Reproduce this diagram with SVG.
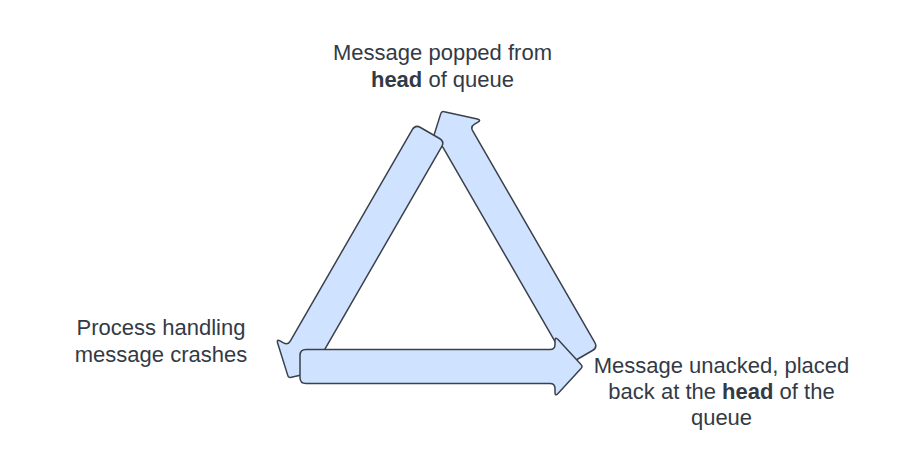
<svg xmlns="http://www.w3.org/2000/svg" width="900" height="454" viewBox="0 0 900 454">
  <style>
    .arrow { fill: #cfe2ff; stroke: #3a414a; stroke-width: 1.5; stroke-linejoin: round; }
    .label { font-family: "Liberation Sans", Arial, sans-serif; font-size: 22px; fill: #333a45; text-anchor: middle; }
    .b { font-weight: bold; }
  </style>
  <defs>
    <path id="blockArrow" d="M6,-17 L250,-17 Q255,-17 255,-22 L255,-26 Q255,-30 258,-27 L281,-2 Q283,0 281,2 L258,27 Q255,30 255,26 L255,22 Q255,17 250,17 L6,17 Q0,17 0,11 L0,-11 Q0,-17 6,-17 Z"/>
  </defs>
  <rect width="900" height="454" fill="#ffffff"/>
  <g id="connectors">
    <use href="#blockArrow" class="arrow" transform="translate(583,356) rotate(-120)"/>
    <use href="#blockArrow" class="arrow" transform="translate(430,133) rotate(120)"/>
    <use href="#blockArrow" class="arrow" transform="translate(300,366.5)"/>
  </g>
  <g id="node-popped">
    <text class="label" x="442.5" y="60">Message popped from</text>
    <text class="label" x="442.5" y="87"><tspan class="b">head</tspan> of queue</text>
  </g>
  <g id="node-crash">
    <text class="label" x="161" y="335">Process handling</text>
    <text class="label" x="161" y="362">message crashes</text>
  </g>
  <g id="node-unacked">
    <text class="label" x="721.5" y="373">Message unacked, placed</text>
    <text class="label" x="721.5" y="399">back at the <tspan class="b">head</tspan> of the</text>
    <text class="label" x="721.5" y="425">queue</text>
  </g>
</svg>
